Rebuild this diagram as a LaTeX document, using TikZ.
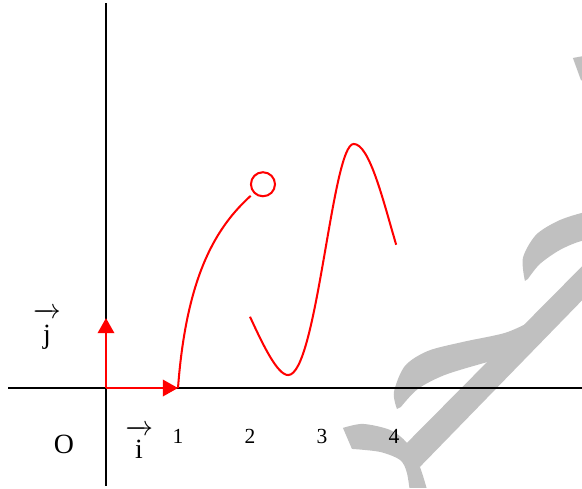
\documentclass[tikz,border=0pt]{standalone}
\usepackage{fontspec}
\setmainfont{Liberation Serif}
\usetikzlibrary{arrows.meta}
\definecolor{curveRed}{RGB}{255, 0, 0}
\definecolor{markGray}{RGB}{192, 192, 192}

\begin{document}
\begin{tikzpicture}[scale=1,
    axis/.style={line width=0.8pt},
    vecarrow/.style={curveRed, line width=0.9pt, -{Triangle[length=6pt,width=6.5pt]}},
    graph/.style={curveRed, line width=0.8pt},
    ticklabel/.style={anchor=base, font=\fontsize{8.5}{9}\selectfont},
    biglabel/.style={anchor=base, font=\fontsize{11}{12}\selectfont}]
      \useasboundingbox (-1.472,-1.389) rectangle (6.611,5.389);

      % watermark, in pixel steps from the top left corner
      \begin{scope}[shift={(-1.472,5.389)}, x=0.013889cm, y=-0.013889cm]
        \clip (0,0) rectangle (582,488);
        \fill[markGray] (573,58) -- (600,53) -- (600,90) -- (581,80) -- cycle;
        \fill[markGray] (402,448) -- (644,204) -- (676,204) -- (420,467) -- cycle;
        \fill[markGray] plot[smooth] coordinates {(343,428) (363,424) (390,430) (407,443) (420,467) (430,500)}
          -- plot[smooth] coordinates {(411,500) (407,473) (400,460) (380,452) (352,449)} -- cycle;
        \fill[markGray] plot[smooth] coordinates {(397,409) (394,392) (405,366) (428,351) (463,342) (505,333) (530,322)}
          -- plot[smooth] coordinates {(500,360) (488,362) (445,375) (418,389) (401,407)} -- cycle;
        \fill[markGray] plot[smooth] coordinates {(525,281) (523,258) (536,235) (558,221) (582,213) (600,211)}
          -- plot[smooth] coordinates {(605,240) (582,241) (560,250) (540,264) (528,279)} -- cycle;
      \end{scope}

      % axes
      \draw[axis] (-1.36,0) -- (6.611,0);
      \draw[axis] (0,-1.36) -- (0,5.35);

      % unit vectors
      \coordinate (O) at (0,0);
      \coordinate (I) at (1,0);
      \coordinate (J) at (0,0.972);
      \draw[vecarrow] (O) -- (J);
      \draw[vecarrow] (O) -- (I);

      \node[biglabel] (origin) at (-0.583,-0.903) {O};
      \node[biglabel] (jlabel) at (-0.82,0.618) {$\overrightarrow{\mbox{\,j\,}\rule{0pt}{11pt}}$};
      \node[biglabel] (ilabel) at (0.46,-0.972) {$\overrightarrow{\mbox{\,i\,}\rule{0pt}{10pt}}$};
      \foreach \x in {1,2,3,4}
        \node[ticklabel] (t\x) at (\x,-0.764) {\x};

      % first branch, ends in an open point
      \coordinate (hole) at (2.18,2.83);
      \draw[graph] (I) .. controls (1.12,1.6) and (1.55,2.25) .. (2.01,2.67);
      \draw[graph] (hole) circle (0.167);

      % second branch: down to the minimum, up to the maximum, down again
      \draw[graph] (2.0,0.99) .. controls (2.18,0.6) and (2.38,0.18) .. (2.53,0.18)
        .. controls (2.93,0.18) and (3.14,3.39) .. (3.44,3.39)
        .. controls (3.66,3.39) and (3.85,2.6) .. (4.03,1.99);
\end{tikzpicture}
\end{document}
